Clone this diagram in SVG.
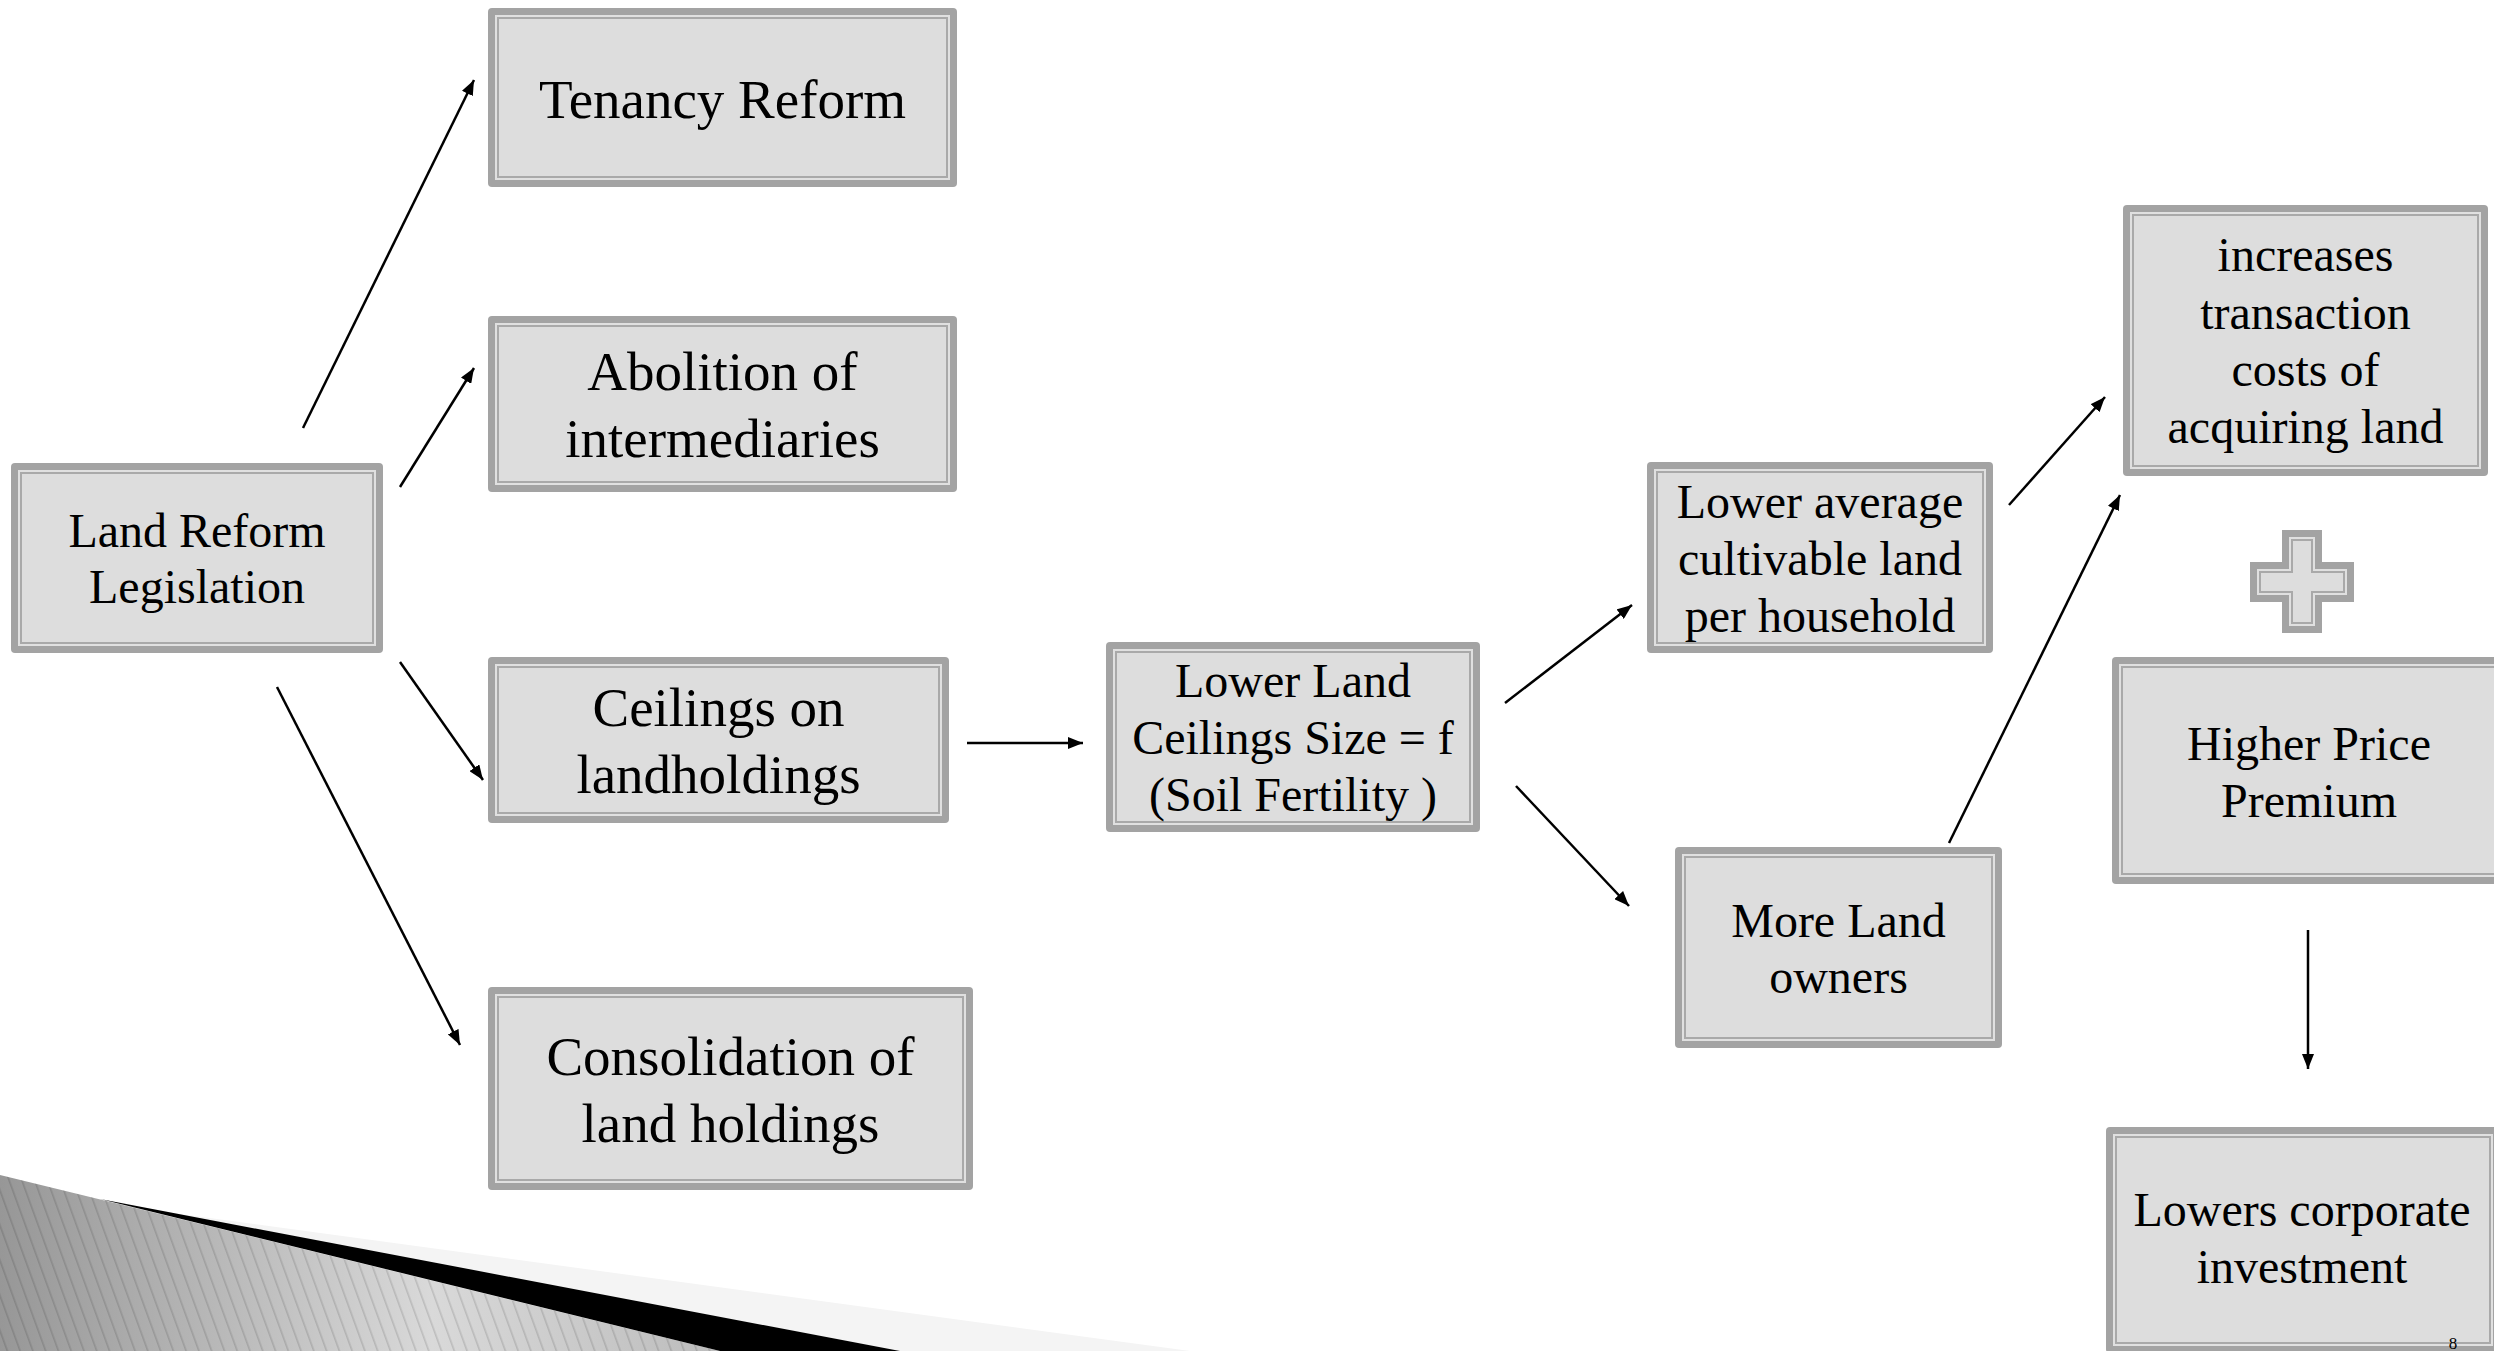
<svg xmlns="http://www.w3.org/2000/svg" width="2494" height="1351" viewBox="0 0 2494 1351">
<style>
.o{fill:#a3a3a3}
.l{fill:#e0e0e0}
.f{fill:#dddddd;stroke:#a9a9a9;stroke-width:2}
.t{font-family:"Liberation Serif","Times New Roman",serif;fill:#000;text-anchor:middle}
.s55{font-size:55px}
.s48{font-size:48px}
.c line{stroke:#000;stroke-width:2.5;marker-end:url(#ah)}
</style>
<defs>
<marker id="ah" markerUnits="userSpaceOnUse" markerWidth="16" markerHeight="12" refX="15" refY="6" orient="auto">
<path d="M0,0 L15,6 L0,12 z" fill="#000"/>
</marker>
<linearGradient id="gg" x1="0" y1="0" x2="720" y2="0" gradientUnits="userSpaceOnUse">
<stop offset="0" stop-color="#979797"/>
<stop offset="0.6" stop-color="#d9d9d9"/>
<stop offset="1" stop-color="#bcbcbc"/>
</linearGradient>
<pattern id="st" width="12" height="12" patternUnits="userSpaceOnUse" patternTransform="rotate(-20)">
<rect x="0" y="0" width="1.6" height="12" fill="#000" fill-opacity="0.13"/>
</pattern>
</defs>
<rect width="2494" height="1351" fill="#fff"/>
<g id="decoration">
<polygon points="150,1210 1190,1351 900,1351" fill="#f4f4f4"/>
<polygon points="0,1175 720,1351 0,1351" fill="url(#gg)"/>
<polygon points="0,1175 720,1351 0,1351" fill="url(#st)"/>
<polygon points="100,1199 900,1351 720,1351" fill="#000"/>
</g>
<g id="connectors" class="c">
<line x1="303" y1="428" x2="474" y2="80"/>
<line x1="400" y1="487" x2="474" y2="368"/>
<line x1="400" y1="662" x2="483" y2="780"/>
<line x1="277" y1="687" x2="460" y2="1045"/>
<line x1="967" y1="743" x2="1083" y2="743"/>
<line x1="1505" y1="703" x2="1632" y2="605"/>
<line x1="1516" y1="786" x2="1629" y2="906"/>
<line x1="2009" y1="505" x2="2105" y2="397"/>
<line x1="1949" y1="843" x2="2120" y2="495"/>
<line x1="2308" y1="930" x2="2308" y2="1069"/>
</g>
<g id="tenancy" transform="translate(488,8)">
<rect class="o" width="469" height="179" rx="4"/><rect class="l" x="7" y="7" width="455" height="165"/><rect class="f" x="10" y="10" width="449" height="159"/>
<text class="t s55" x="234.5" y="110">Tenancy Reform</text>
</g>
<g id="abolition" transform="translate(488,316)">
<rect class="o" width="469" height="176" rx="4"/><rect class="l" x="7" y="7" width="455" height="162"/><rect class="f" x="10" y="10" width="449" height="156"/>
<text class="t s55" x="234.5" y="74">Abolition of</text>
<text class="t s55" x="234.5" y="141">intermediaries</text>
</g>
<g id="landreform" transform="translate(11,463)">
<rect class="o" width="372" height="190" rx="4"/><rect class="l" x="7" y="7" width="358" height="176"/><rect class="f" x="10" y="10" width="352" height="170"/>
<text class="t s48" x="186" y="84">Land Reform</text>
<text class="t s48" x="186" y="140">Legislation</text>
</g>
<g id="ceilings" transform="translate(488,657)">
<rect class="o" width="461" height="166" rx="4"/><rect class="l" x="7" y="7" width="447" height="152"/><rect class="f" x="10" y="10" width="441" height="146"/>
<text class="t s55" x="230.5" y="69">Ceilings on</text>
<text class="t s55" x="230.5" y="136">landholdings</text>
</g>
<g id="consolidation" transform="translate(488,987)">
<rect class="o" width="485" height="203" rx="4"/><rect class="l" x="7" y="7" width="471" height="189"/><rect class="f" x="10" y="10" width="465" height="183"/>
<text class="t s55" x="242.5" y="88">Consolidation of</text>
<text class="t s55" x="242.5" y="155">land holdings</text>
</g>
<g id="lowerland" transform="translate(1106,642)">
<rect class="o" width="374" height="190" rx="4"/><rect class="l" x="7" y="7" width="360" height="176"/><rect class="f" x="10" y="10" width="354" height="170"/>
<text class="t s48" x="187" y="55">Lower Land</text>
<text class="t s48" x="187" y="112">Ceilings Size = f</text>
<text class="t s48" x="187" y="169">(Soil Fertility )</text>
</g>
<g id="moreland" transform="translate(1675,847)">
<rect class="o" width="327" height="201" rx="4"/><rect class="l" x="7" y="7" width="313" height="187"/><rect class="f" x="10" y="10" width="307" height="181"/>
<text class="t s48" x="163.5" y="90">More Land</text>
<text class="t s48" x="163.5" y="146">owners</text>
</g>
<g id="loweravg" transform="translate(1647,462)">
<rect class="o" width="346" height="191" rx="4"/><rect class="l" x="7" y="7" width="332" height="177"/><rect class="f" x="10" y="10" width="326" height="171"/>
<text class="t s48" x="173" y="56">Lower average</text>
<text class="t s48" x="173" y="113">cultivable land</text>
<text class="t s48" x="173" y="170">per household</text>
</g>
<g id="increases" transform="translate(2123,205)">
<rect class="o" width="365" height="271" rx="4"/><rect class="l" x="7" y="7" width="351" height="257"/><rect class="f" x="10" y="10" width="345" height="251"/>
<text class="t s48" x="182.5" y="66">increases</text>
<text class="t s48" x="182.5" y="124">transaction</text>
<text class="t s48" x="182.5" y="181">costs of</text>
<text class="t s48" x="182.5" y="238">acquiring land</text>
</g>
<g id="plus">
<polygon class="o" points="2282,530 2322,530 2322,562 2354,562 2354,602 2322,602 2322,633 2282,633 2282,602 2250,602 2250,562 2282,562"/>
<polygon class="l" points="2289,537 2315,537 2315,569 2347,569 2347,595 2315,595 2315,626 2289,626 2289,595 2257,595 2257,569 2289,569"/>
<polygon class="f" points="2292,540 2312,540 2312,572 2344,572 2344,592 2312,592 2312,623 2292,623 2292,592 2260,592 2260,572 2292,572"/>
</g>
<g id="higher" transform="translate(2112,657)">
<rect class="o" width="394" height="227" rx="4"/><rect class="l" x="7" y="7" width="380" height="213"/><rect class="f" x="10" y="10" width="374" height="207"/>
<text class="t s48" x="197" y="103">Higher Price</text>
<text class="t s48" x="197" y="160">Premium</text>
</g>
<g id="lowers" transform="translate(2106,1127)">
<rect class="o" width="394" height="226" rx="4"/><rect class="l" x="7" y="7" width="380" height="212"/><rect class="f" x="10" y="10" width="374" height="206"/>
<text class="t s48" x="196" y="99">Lowers corporate</text>
<text class="t s48" x="196" y="156">investment</text>
</g>
<text class="t" x="2453" y="1349" font-size="17">8</text>
</svg>
